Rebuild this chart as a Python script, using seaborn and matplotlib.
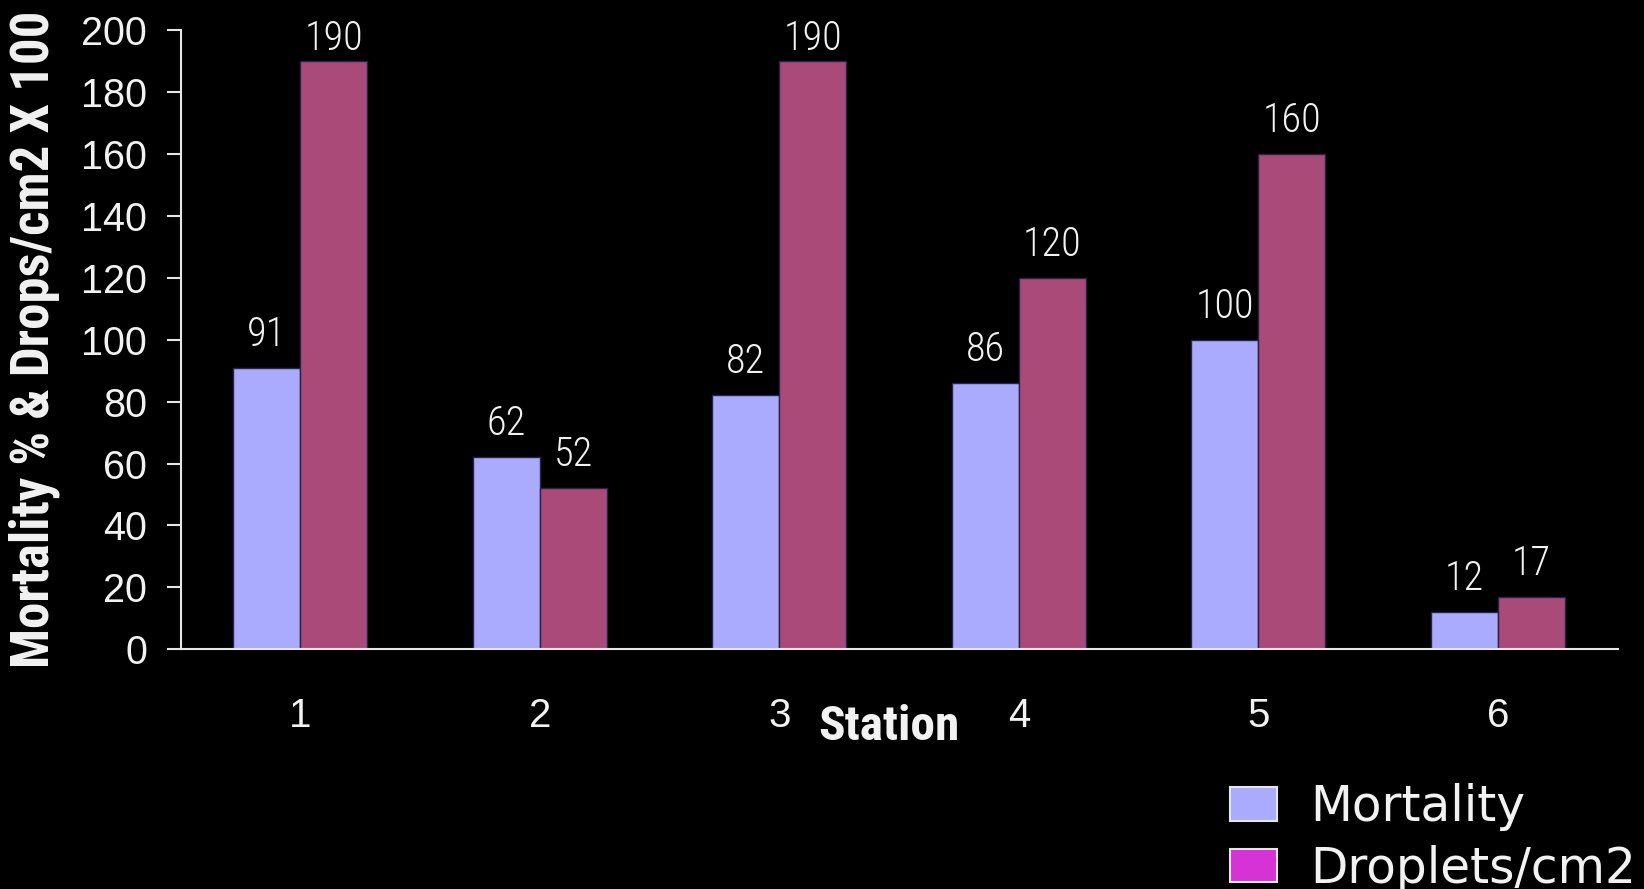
import matplotlib
matplotlib.use("Agg")
import matplotlib.pyplot as plt
from matplotlib import font_manager as fm
from matplotlib.patches import Patch
from matplotlib.ticker import FixedLocator
import seaborn as sns
import pandas as pd

# ---- data ----
stations = ["1", "2", "3", "4", "5", "6"]
mortality = [91, 62, 82, 86, 100, 12]
droplets = [190, 52, 190, 120, 160, 17]
series_names = ["Mortality", "Droplets/cm2"]
y_ticks = [0, 20, 40, 60, 80, 100, 120, 140, 160, 180, 200]

df = pd.DataFrame({
    "Station": stations * 2,
    "value": mortality + droplets,
    "series": [series_names[0]] * len(stations) + [series_names[1]] * len(stations),
})

names = {f.name for f in fm.fontManager.ttflist}


def pick(cands, default):
    for c in cands:
        if c in names:
            return c
    return default


ARIAL = "Liberation Sans"
NARROW = pick(["Liberation Sans Narrow", "Roboto Condensed", "DejaVu Sans Condensed"], ARIAL)
THIN = pick(["Roboto Condensed", "Liberation Sans Narrow", "Roboto"], ARIAL)

sns.set_theme(style="dark")
plt.rcParams["font.family"] = [ARIAL, "DejaVu Sans"]

BAR1 = "#aaaaff"
BAR2 = "#aa4a78"
LEG2 = "#d633d6"
FG = "#f2f2f2"
AX = "#e6e6e6"

fig = plt.figure(figsize=(16.44, 8.89), dpi=100, facecolor="black")
ax = fig.add_axes([0.1098, 0.2696, 0.9840 - 0.1098, 0.9663 - 0.2696])
ax.set_facecolor("black")

sns.barplot(data=df, x="Station", y="value", hue="series", hue_order=series_names,
            palette=[BAR1, BAR2], saturation=1, width=0.56, edgecolor="#25254a",
            linewidth=1.0, ax=ax, legend=False, errorbar=None)

YMAX = 200
for cont, vals in zip(ax.containers, [mortality, droplets]):
    anns = ax.bar_label(cont, labels=[str(v) for v in vals], padding=10, fontsize=29,
                        color=FG, family=THIN, fontweight="light")
    # labels near the top of the plot are pulled down to stay inside it
    for ann, v in zip(anns, vals):
        if v >= 0.92 * YMAX:
            ann.xyann = (0, 2)

ax.set_ylim(0, YMAX)
ax.set_xlim(-0.5, len(stations) - 0.5)
ax.set_yticks(y_ticks)
ax.set_yticklabels([str(t) for t in y_ticks])

ax.xaxis.set_minor_locator(FixedLocator([i - 0.5 for i in range(len(stations) + 1)]))
ax.tick_params(axis="x", which="major", length=0, pad=34, labelsize=29, colors=FG)
ax.tick_params(axis="x", which="minor", length=9.5, width=1.5, color=AX, direction="out")
ax.tick_params(axis="y", which="major", length=10, width=1.5, color=AX, pad=14,
               labelsize=28.5, labelcolor=FG, direction="out", left=True)
ax.grid(False)

for s in ["top", "right"]:
    ax.spines[s].set_visible(False)
for s in ["left", "bottom"]:
    ax.spines[s].set_visible(True)
    ax.spines[s].set_color(AX)
    ax.spines[s].set_linewidth(1.5)

ax.set_ylabel("Mortality % & Drops/cm2 X 100", fontsize=38, fontweight="bold",
              color=FG, family=NARROW)
ax.yaxis.label.set_va("center")
ax.yaxis.set_label_coords(-0.102, 0.5)
ax.set_xlabel("Station", fontsize=35.5, fontweight="bold", color=FG, family=NARROW)
ax.xaxis.label.set_va("baseline")
ax.xaxis.set_label_coords(0.493, -0.1465)

handles = [Patch(facecolor=BAR1, edgecolor=AX, linewidth=1.5, label=series_names[0]),
           Patch(facecolor=LEG2, edgecolor=AX, linewidth=1.5, label=series_names[1])]
leg = fig.legend(handles=handles, loc="lower right", bbox_to_anchor=(0.995, -0.004),
                 frameon=False, prop={"family": "DejaVu Sans", "size": 35},
                 handlelength=0.97, handleheight=0.68, handletextpad=0.67,
                 labelspacing=0.28, borderpad=0.0, borderaxespad=0.0)
for t in leg.get_texts():
    t.set_color(FG)

fig.savefig("out.png", dpi=100, facecolor="black")
